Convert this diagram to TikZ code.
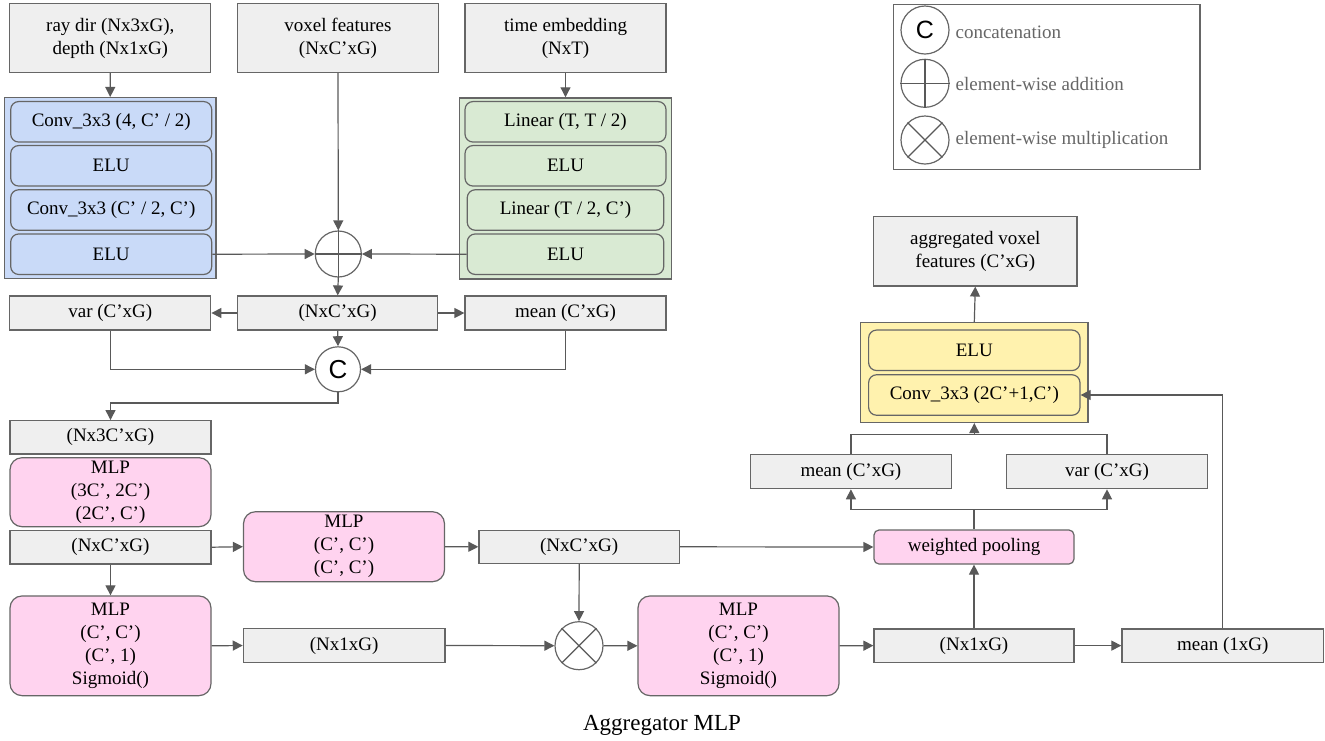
\documentclass[tikz,border=0pt]{standalone}
\usepackage{fontspec}
\setmainfont{Liberation Serif}
\newfontfamily\arialfont{Liberation Sans}
\usetikzlibrary{arrows.meta}
\definecolor{boxgray}{HTML}{EFEFEF}
\definecolor{linegray}{HTML}{595959}
\definecolor{edgegray}{HTML}{666666}
\definecolor{convblue}{HTML}{C9DAF8}
\definecolor{lingreen}{HTML}{D9EAD3}
\definecolor{mlppink}{HTML}{FFD3EF}
\definecolor{outyellow}{HTML}{FFF2AE}

\begin{document}
\begin{tikzpicture}[x=1pt,y=-1pt,
	font=\rmfamily\fontsize{19}{23}\selectfont,
	box/.style={draw=edgegray, line width=1.2pt, fill=boxgray, inner sep=0pt, align=center, minimum width=201pt, minimum height=34pt},
	mlpbox/.style={box, fill=mlppink, rounded corners=12pt},
	layer/.style={box, rounded corners=8pt, minimum height=40.5pt},
	block/.style={draw=edgegray, line width=1.5pt, inner sep=0pt},
	op/.style={circle, draw=edgegray, line width=1.2pt, fill=white, inner sep=0pt, minimum size=46pt},
	arr/.style={draw=linegray, line width=1.2pt, -{Triangle[length=10pt,width=10pt]}},
	link/.style={draw=linegray, line width=1.2pt}]

				\useasboundingbox (0,0) rectangle (1325,740);

				\node[box, minimum height=69pt] (raydir) at (110.3,38) {ray dir (Nx3xG),\\depth (Nx1xG)};
				\node[box, minimum height=69pt] (voxel) at (338,38) {voxel features\\(NxC'xG)};
				\node[box, minimum height=69pt] (timeemb) at (565.5,38) {time embedding\\(NxT)};

				\node[block, fill=convblue, minimum width=211.7pt, minimum height=181pt] (convblk) at (110.2,188.2) {};
				\node[layer, fill=convblue] (conv1) at (111.2,121.8) {Conv\_3x3 (4, C' / 2)};
				\node[layer, fill=convblue] (celu1) at (111.2,165.8) {ELU};
				\node[layer, fill=convblue] (conv2) at (111.2,210) {Conv\_3x3 (C' / 2, C')};
				\node[layer, fill=convblue] (celu2) at (111.2,254.2) {ELU};

				\node[block, fill=lingreen, minimum width=212.4pt, minimum height=181pt] (linblk) at (565.5,188.5) {};
				\node[layer, fill=lingreen] (lin1) at (565.5,121.8) {Linear (T, T / 2)};
				\node[layer, fill=lingreen] (lelu1) at (565.5,165.8) {ELU};
				\node[layer, fill=lingreen, minimum width=196.5pt] (lin2) at (565.5,210) {Linear (T / 2, C')};
				\node[layer, fill=lingreen, minimum width=196.5pt] (lelu2) at (565.5,254.2) {ELU};

				\node[op] (add) at (338.3,254) {};
				\draw[link] (add.north) -- (add.south) (add.west) -- (add.east);

				\node[box] (var1) at (110.3,313) {var (C'xG)};
				\node[box, minimum width=200pt] (feat1) at (337.7,313) {(NxC'xG)};
				\node[box] (mean1) at (565.5,313) {mean (C'xG)};

				\node[op, minimum size=45pt, font=\arialfont\fontsize{26}{26}\selectfont] (cat) at (338,369.3) {C};

				\node[box, minimum height=33.3pt] (feat3c) at (110.5,437.3) {(Nx3C'xG)};
				\node[mlpbox, minimum height=69pt] (mlp1) at (110.5,492.2) {MLP\\(3C', 2C')\\(2C', C')};
				\node[box, minimum height=33.5pt] (feat2) at (110.5,547.2) {(NxC'xG)};
				\node[mlpbox, minimum height=70pt] (mlp2) at (344,546.7) {MLP\\(C', C')\\(C', C')};
				\node[box, minimum width=200.5pt, minimum height=33pt] (feat3) at (579.2,546.8) {(NxC'xG)};

				\node[mlpbox, minimum height=99.7pt] (mlp3) at (110.5,645.8) {MLP\\(C', C')\\(C', 1)\\Sigmoid()};
				\node[box, minimum width=201.7pt, minimum height=34.4pt] (wgt1) at (344.2,645.5) {(Nx1xG)};
				\node[op, minimum size=48pt] (mul) at (579,645.7) {};
				\draw[link] (mul.45) -- (mul.225) (mul.135) -- (mul.315);
				\node[mlpbox, minimum height=99.7pt] (mlp4) at (738.5,645.8) {MLP\\(C', C')\\(C', 1)\\Sigmoid()};
				\node[box, minimum width=200pt, minimum height=33.3pt] (wgt2) at (974,645.6) {(Nx1xG)};
				\node[box, minimum width=201.7pt, minimum height=33.3pt] (mean3) at (1222.8,645.6) {mean (1xG)};

				\node[mlpbox, rounded corners=5pt, minimum width=200pt] (pool) at (974,547) {weighted pooling};
				\node[box, minimum height=34.4pt] (mean2) at (850.9,471.5) {mean (C'xG)};
				\node[box, minimum width=200.5pt, minimum height=34.4pt] (var2) at (1107,471.5) {var (C'xG)};

				\node[block, fill=outyellow, minimum width=227.4pt, minimum height=99.6pt] (outblk) at (974.3,372.5) {};
				\node[layer, fill=outyellow, minimum width=211.4pt] (oelu) at (974.3,350.3) {ELU};
				\node[layer, fill=outyellow, minimum width=211.4pt] (oconv) at (974.3,395) {Conv\_3x3 (2C'+1,C')};
				\node[box, minimum width=203.4pt, minimum height=69.3pt] (aggr) at (975.3,251.3) {aggregated voxel\\features (C'xG)};

				\coordinate (split) at (974,509.3);
				\coordinate (merge) at (974.3,434.7);

				\draw[arr] (raydir.south) -- (convblk.north);
				\draw[arr] (timeemb.south) -- (linblk.north);
				\draw[arr] (voxel.south) -- (add.north);
				\draw[arr] (celu2.east) -- (add.west);
				\draw[arr] (lelu2.west) -- (add.east);
				\draw[arr] (add.south) -- (feat1.north);
				\draw[arr] (feat1.west) -- (var1.east);
				\draw[arr] (feat1.east) -- (mean1.west);
				\draw[arr] (feat1.south) -- (cat.north);
				\draw[arr] (var1.south) |- (cat.west);
				\draw[arr] (mean1.south) |- (cat.east);
				\draw[arr] (cat.south) -- ++(0,10.5) -| (feat3c.north);
				\draw[arr] (feat2.east) -- (mlp2.west);
				\draw[arr] (mlp2.east) -- (feat3.west);
				\draw[arr] (feat2.south) -- (mlp3.north);
				\draw[arr] (mlp3.east) -- (wgt1.west);
				\draw[arr] (wgt1.east) -- (mul.west);
				\draw[arr] (feat3.south) -- (mul.north);
				\draw[arr] (mul.east) -- (mlp4.west);
				\draw[arr] (mlp4.east) -- (wgt2.west);
				\draw[arr] (wgt2.east) -- (mean3.west);
				\draw[arr] (wgt2.north) -- (pool.south);
				\draw[arr] (feat3.east) -- (pool.west);
				\draw[link] (pool.north) -- (split);
				\draw[arr] (split) -| (mean2.south);
				\draw[arr] (split) -| (var2.south);
				\draw[link] (mean2.north) -- (mean2.north |- merge) -- (var2.north |- merge) -- (var2.north);
				\draw[arr] (merge) -- (outblk.south);
				\draw[arr] (mean3.north) |- (oconv.east);
				\draw[arr] (outblk.north) -- (aggr.south);

				\node[draw=edgegray, line width=1.2pt, inner sep=0pt, minimum width=306.2pt, minimum height=164.6pt] (legend) at (1046.9,87) {};
				\node[op, minimum size=48pt, font=\arialfont\fontsize{25}{25}\selectfont] (legcat) at (925,30) {C};
				\node[op, minimum size=48pt] (legadd) at (925,83.3) {};
				\draw[link] (legadd.north) -- (legadd.south) (legadd.west) -- (legadd.east);
				\node[op, minimum size=48pt] (legmul) at (925,140) {};
				\draw[link] (legmul.45) -- (legmul.225) (legmul.135) -- (legmul.315);
				\node[anchor=west, text=edgegray, inner sep=0pt] (legcattxt) at (955.4,32) {concatenation};
				\node[anchor=west, text=edgegray, inner sep=0pt] (legaddtxt) at (955.4,83.5) {element-wise addition};
				\node[anchor=west, text=edgegray, inner sep=0pt] (legmultxt) at (955.4,139.5) {element-wise multiplication};

				\node[font=\rmfamily\fontsize{23}{28}\selectfont] (caption) at (662,725) {Aggregator MLP};
			\end{tikzpicture}
\end{document}
